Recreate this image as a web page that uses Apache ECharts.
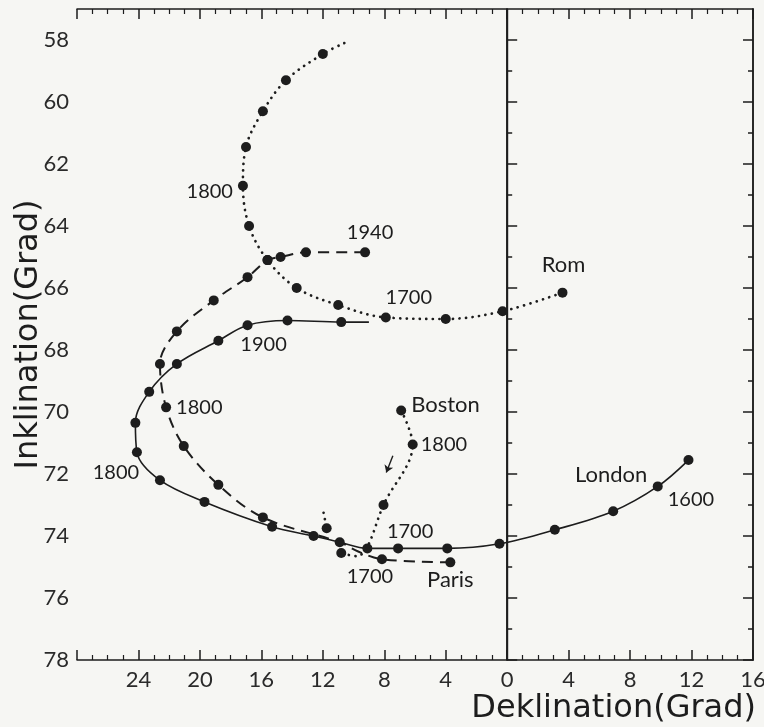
<!DOCTYPE html>
<html>
<head>
<meta charset="utf-8">
<script src="https://cdn.jsdelivr.net/npm/echarts@6/dist/echarts.min.js"></script>
<style>
  html, body { margin: 0; padding: 0; background: #f6f6f3; }
  #chart { width: 764px; height: 727px; }
</style>
</head>
<body>
<div id="chart"></div>
<script>
// Deklination: west negative (drawn on the left), east positive
// Rom (dotted)
const romX = [-10.6, -12.0, -14.4, -15.9, -17.0, -17.2, -16.8, -15.6, -13.7, -11.0, -7.9, -4.0, -0.3, 3.6]
const romY = [58.1, 58.45, 59.3, 60.3, 61.45, 62.7, 64.0, 65.1, 66.0, 66.55, 66.95, 67.0, 66.75, 66.15]
// London (solid)
const londonX = [-9.0, -10.8, -14.3, -16.9, -18.8, -21.5, -23.3, -24.2, -24.1, -22.6, -19.7, -15.3, -12.6, -10.9, -9.1, -7.1, -3.9, -0.5, 3.1, 6.9, 9.8, 11.8]
const londonY = [67.1, 67.1, 67.05, 67.2, 67.7, 68.45, 69.35, 70.35, 71.3, 72.2, 72.9, 73.7, 74.0, 74.2, 74.4, 74.4, 74.4, 74.25, 73.8, 73.2, 72.4, 71.55]
// Paris (dashed)
const parisX = [-9.25, -13.1, -14.75, -15.6, -16.9, -19.1, -21.5, -22.6, -22.2, -21.05, -18.8, -15.9, -10.9, -9.7, -8.15, -3.7]
const parisY = [64.85, 64.85, 65.0, 65.1, 65.65, 66.4, 67.4, 68.45, 69.85, 71.1, 72.35, 73.4, 74.2, 74.5, 74.75, 74.85]
// Boston (dotted) and its short second piece
const bostonX = [-6.9, -6.15, -8.05, -9.15, -9.8, -10.8]
const bostonY = [69.95, 71.05, 73.0, 74.4, 74.65, 74.55]
const bostonTailX = [-11.95, -11.75]
const bostonTailY = [73.25, 73.75]
// direction arrow
const arrowFrom = [-7.44, 71.41]
const arrowTo = [-7.87, 71.95]

// ticks
const xTicks = [-28, -24, -20, -16, -12, -8, -4, 0, 4, 8, 12, 16]
const yTicks = [58, 60, 62, 64, 66, 68, 70, 72, 74, 76, 78]
const yMinor = [59, 61, 63, 65, 67, 69, 71, 73, 75, 77]

const ink = '#1d1d1d'
const font = 'Lato'
const titleFont = 'DejaVu Sans'
const yearStyle = { fontFamily: font, fontSize: 20, color: ink }
const nameStyle = { fontFamily: font, fontSize: 22, color: ink }

// points without a dot, and text next to some points
const romOpen = [0]
const londonOpen = [0]
const parisOpen = [12, 13]
const bostonOpen = [3, 4]
const tailOpen = [0]

const romNotes = [
  { i: 5, text: '1800', pos: 'left', off: [0, 6] },
  { i: 10, text: '1700', pos: 'top', off: [23, 0] },
  { i: 13, text: 'Rom', pos: 'top', off: [1, -7] }
]
const londonNotes = [
  { i: 4, text: '1900', pos: 'right', off: [12, 4] },
  { i: 8, text: '1800', pos: 'bottom', off: [-21, 0] },
  { i: 15, text: '1700', pos: 'top', off: [12, 3] },
  { i: 19, text: 'London', pos: 'top', off: [-2, -15] },
  { i: 20, text: '1600', pos: 'right', off: [0, 13] }
]
const parisNotes = [
  { i: 0, text: '1940', pos: 'top', off: [5, 0] },
  { i: 8, text: '1800', pos: 'right', off: [0, 0] },
  { i: 14, text: '1700', pos: 'bottom', off: [-12, -3] },
  { i: 15, text: 'Paris', pos: 'bottom', off: [0, -3] }
]
const bostonNotes = [
  { i: 0, text: 'Boston', pos: 'right', off: [0, -6] },
  { i: 1, text: '1800', pos: 'right', off: [-2, 0] }
]

function buildData(xs, ys, open, notes) {
  return xs.map((x, i) => {
    const item = { value: [x, ys[i]] }
    if (open.includes(i)) item.symbol = 'none'
    const n = notes.find(n => n.i === i)
    if (n) {
      const style = /^\d+$/.test(n.text) ? yearStyle : nameStyle
      item.label = { show: true, formatter: n.text, position: n.pos, offset: n.off, ...style }
    }
    return item
  })
}

const dotted = { color: ink, width: 2.7, type: [0.1, 6.5], cap: 'round' }

function curve(name, data, lineStyle) {
  return {
    name,
    type: 'line',
    data,
    smooth: 0.35,
    symbol: 'circle',
    symbolSize: 10,
    itemStyle: { color: ink },
    lineStyle,
    label: { show: false },
    z: 3
  }
}

const axisLine = { show: true, lineStyle: { color: ink, width: 1.5 } }
const tickLine = { color: ink, width: 1.5 }

function xAxisOf(pos, withLabels) {
  return {
    type: 'value',
    position: pos,
    min: -28,
    max: 16,
    interval: 4,
    axisLine,
    axisTick: { show: true, inside: true, length: 10, lineStyle: tickLine },
    minorTick: { show: true, splitNumber: 4, length: 5, lineStyle: { color: ink, width: 1.2 } },
    splitLine: { show: false },
    axisLabel: {
      show: withLabels,
      margin: 9,
      fontFamily: font,
      fontSize: 22,
      color: '#2a2a2a',
      formatter: v => (xTicks.indexOf(v) > 0 ? String(Math.abs(v)) : '')
    }
  }
}

function yAxisOf(pos, values, len, withLabels) {
  return {
    type: 'value',
    position: pos,
    offset: 0,
    inverse: true,
    min: 57,
    max: 78,
    axisLine,
    axisTick: { show: true, inside: true, length: len, customValues: values, lineStyle: tickLine },
    splitLine: { show: false },
    axisLabel: {
      show: withLabels,
      customValues: values,
      margin: 8,
      fontFamily: font,
      fontSize: 22,
      color: '#2a2a2a'
    }
  }
}

const xMain = xAxisOf('bottom', true)
xMain.name = 'Deklination(Grad)'
xMain.nameLocation = 'end'
xMain.nameGap = 3
xMain.nameMoveOverlap = false
xMain.nameTextStyle = { fontFamily: titleFont, fontSize: 32, color: ink, align: 'right', verticalAlign: 'top', padding: [33, 0, 0, 0] }

const yMain = yAxisOf('left', yTicks, 10, true)
yMain.name = 'Inklination(Grad)'
yMain.nameLocation = 'middle'
yMain.nameRotate = 90
yMain.nameGap = 32
yMain.nameMoveOverlap = false
yMain.nameTextStyle = { fontFamily: titleFont, fontSize: 32, color: ink }

const london = curve('London', buildData(londonX, londonY, londonOpen, londonNotes), { color: ink, width: 1.6 })
// zero declination line
london.markLine = {
  silent: true,
  symbol: 'none',
  label: { show: false },
  lineStyle: { color: ink, width: 1.4, type: 'solid' },
  data: [{ xAxis: 0 }]
}

const chart = echarts.init(document.getElementById('chart'))
chart.setOption({
  backgroundColor: '#f6f6f3',
  animation: false,
  grid: { left: 77, top: 9, right: 11, bottom: 67, containLabel: false, outerBoundsMode: 'none' },
  xAxis: [xMain, xAxisOf('top', false)],
  yAxis: [
    yMain,
    yAxisOf('left', yMinor, 5, false),
    yAxisOf('right', yTicks, 10, false),
    yAxisOf('right', yMinor, 5, false)
  ],
  series: [
    curve('Rom', buildData(romX, romY, romOpen, romNotes), dotted),
    london,
    curve('Paris', buildData(parisX, parisY, parisOpen, parisNotes), { color: ink, width: 2, type: [11, 7] }),
    curve('Boston', buildData(bostonX, bostonY, bostonOpen, bostonNotes), dotted),
    curve('BostonTail', buildData(bostonTailX, bostonTailY, tailOpen, []), dotted),
    {
      type: 'lines',
      coordinateSystem: 'cartesian2d',
      symbol: ['none', 'arrow'],
      symbolSize: 7,
      lineStyle: { color: ink, width: 1.4, opacity: 1 },
      data: [{ coords: [arrowFrom, arrowTo] }]
    }
  ]
})
</script>
</body>
</html>
